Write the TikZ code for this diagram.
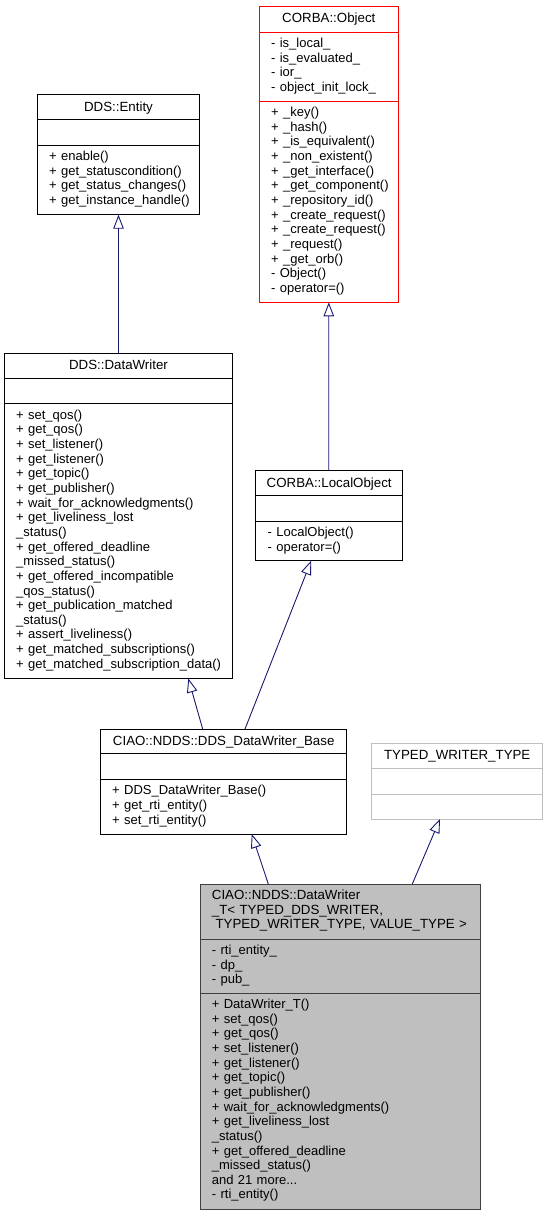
\documentclass[tikz,border=0pt]{standalone}
\usepackage{fontspec}
\setmainfont{Liberation Sans}
\usetikzlibrary{arrows.meta}
\definecolor{edgeblue}{HTML}{191970}
\definecolor{boxred}{HTML}{FF0000}
\definecolor{boxgray}{HTML}{BFBFBF}
\definecolor{darkedge}{HTML}{404040}
\newcommand{\umlfont}{\fontsize{13.3}{14.65}\selectfont}
\newcommand{\umlmembfont}{\fontsize{13}{14.65}\selectfont}
\tikzset{
  classbox/.style={draw=black, line width=1pt, inner sep=0pt, outer sep=0pt, anchor=north west, rectangle},
  memb/.style={anchor=base west, inner sep=0pt, text width=300pt, align=left, font=\umlmembfont},
  ttlleft/.style={anchor=base west, inner sep=0pt, text width=300pt, align=left, font=\umlfont},
  ttl/.style={anchor=base, inner sep=0pt, font=\umlfont},
  sepline/.style={line width=1pt},
  inh/.style={draw=edgeblue, line width=0.9pt, -{Triangle[open, length=14pt, width=10.5pt]}}
}
\begin{document}
\begin{tikzpicture}[x=1pt, y=-1pt]
\useasboundingbox (0,0) rectangle (548,1216);

% CORBA::Object
\node[classbox, draw=boxred, minimum width=139pt, minimum height=296pt] (obj) at (259.3,6.3) {};
\draw[sepline, boxred] (obj.north west |- 0,32) -- (obj.north east |- 0,32);
\draw[sepline, boxred] (obj.north west |- 0,101) -- (obj.north east |- 0,101);
\node[ttl] (objT) at (328.8,22.8) {CORBA::Object};
\node[memb] (objA) at (271,47.5) {- is\_local\_\\- is\_evaluated\_\\- ior\_\\- object\_init\_lock\_};
\node[memb] (objM) at (271,116.5) {+ \_key()\\+ \_hash()\\+ \_is\_equivalent()\\+ \_non\_existent()\\+ \_get\_interface()\\+ \_get\_component()\\+ \_repository\_id()\\+ \_create\_request()\\+ \_create\_request()\\+ \_request()\\+ \_get\_orb()\\- Object()\\- operator=()};

% DDS::Entity
\node[classbox, minimum width=161.6pt, minimum height=120.2pt] (ent) at (37.7,94.5) {};
\draw[sepline] (ent.north west |- 0,119.7) -- (ent.north east |- 0,119.7);
\draw[sepline] (ent.north west |- 0,145) -- (ent.north east |- 0,145);
\node[ttl] (entT) at (118.5,111) {DDS::Entity};
\node[memb] (entM) at (49,160.5) {+ enable()\\+ get\_statuscondition()\\+ get\_status\_changes()\\+ get\_instance\_handle()};

% DDS::DataWriter
\node[classbox, minimum width=227.6pt, minimum height=325.2pt] (dw) at (4.7,353.3) {};
\draw[sepline] (dw.north west |- 0,378.7) -- (dw.north east |- 0,378.7);
\draw[sepline] (dw.north west |- 0,403.7) -- (dw.north east |- 0,403.7);
\node[ttl] (dwT) at (118.5,369.8) {DDS::DataWriter};
\node[memb] (dwM) at (16,419.2) {+ set\_qos()\\+ get\_qos()\\+ set\_listener()\\+ get\_listener()\\+ get\_topic()\\+ get\_publisher()\\+ wait\_for\_acknowledgments()\\+ get\_liveliness\_lost\\\_status()\\+ get\_offered\_deadline\\\_missed\_status()\\+ get\_offered\_incompatible\\\_qos\_status()\\+ get\_publication\_matched\\\_status()\\+ assert\_liveliness()\\+ get\_matched\_subscriptions()\\+ get\_matched\_subscription\_data()};

% CORBA::LocalObject
\node[classbox, minimum width=147pt, minimum height=90pt] (lo) at (255.7,470.7) {};
\draw[sepline] (lo.north west |- 0,495.5) -- (lo.north east |- 0,495.5);
\draw[sepline] (lo.north west |- 0,521) -- (lo.north east |- 0,521);
\node[ttl] (loT) at (329.2,487.2) {CORBA::LocalObject};
\node[memb] (loM) at (267.5,536.5) {- LocalObject()\\- operator=()};

% CIAO::NDDS::DDS_DataWriter_Base
\node[classbox, minimum width=246pt, minimum height=105pt] (base) at (100.7,729) {};
\draw[sepline] (base.north west |- 0,753.5) -- (base.north east |- 0,753.5);
\draw[sepline] (base.north west |- 0,779.2) -- (base.north east |- 0,779.2);
\node[ttl] (baseT) at (223.7,745.5) {CIAO::NDDS::DDS\_DataWriter\_Base};
\node[memb] (baseM) at (112,794.7) {+ DDS\_DataWriter\_Base()\\+ get\_rti\_entity()\\+ set\_rti\_entity()};

% TYPED_WRITER_TYPE
\node[classbox, draw=boxgray, minimum width=171pt, minimum height=75.7pt] (tw) at (371.7,743.3) {};
\draw[sepline, boxgray] (tw.north west |- 0,768.7) -- (tw.north east |- 0,768.7);
\draw[sepline, boxgray] (tw.north west |- 0,794) -- (tw.north east |- 0,794);
\node[ttl] (twT) at (457.2,759.8) {TYPED\_WRITER\_TYPE};

% CIAO::NDDS::DataWriter_T
\node[classbox, draw=darkedge, fill=boxgray, minimum width=280pt, minimum height=325.3pt] (dwt) at (200,884) {};
\draw[sepline, darkedge] (dwt.north west |- 0,939) -- (dwt.north east |- 0,939);
\draw[sepline, darkedge] (dwt.north west |- 0,993) -- (dwt.north east |- 0,993);
\node[ttlleft] (dwtT) at (211.7,899.5) {CIAO::NDDS::DataWriter\\\_T< TYPED\_DDS\_WRITER,\\\hspace*{3.7pt}TYPED\_WRITER\_TYPE, VALUE\_TYPE >};
\node[memb] (dwtA) at (211.7,954.5) {- rti\_entity\_\\- dp\_\\- pub\_};
\node[memb] (dwtM) at (211.7,1008.5) {+ DataWriter\_T()\\+ set\_qos()\\+ get\_qos()\\+ set\_listener()\\+ get\_listener()\\+ get\_topic()\\+ get\_publisher()\\+ wait\_for\_acknowledgments()\\+ get\_liveliness\_lost\\\_status()\\+ get\_offered\_deadline\\\_missed\_status()\\and 21 more...\\- rti\_entity()};

% inheritance connectors
\draw[inh] ([xshift=113.8pt]dw.north west) -- ([xshift=80.8pt]ent.south west);
\draw[inh] ([xshift=73pt]lo.north west) -- ([xshift=69.5pt]obj.south west);
\draw[inh] ([xshift=102pt]base.north west) -- ([xshift=183.6pt]dw.south west);
\draw[inh] ([xshift=144.3pt]base.north west) -- ([xshift=55.5pt]lo.south west);
\draw[inh] ([xshift=68.3pt]dwt.north west) -- ([xshift=151pt]base.south west);
\draw[inh] ([xshift=212.3pt]dwt.north west) -- ([xshift=68.3pt]tw.south west);
\end{tikzpicture}
\end{document}
